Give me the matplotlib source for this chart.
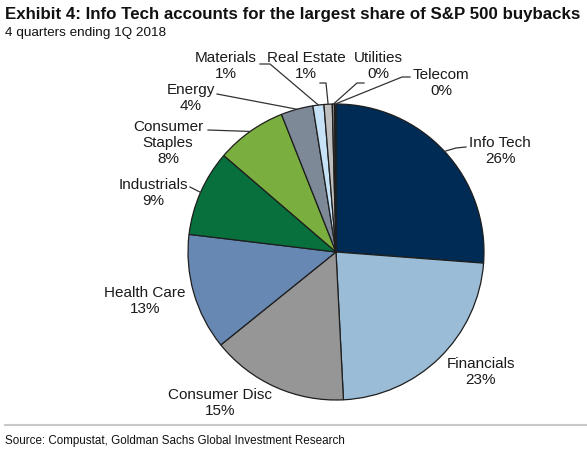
import numpy as np
import matplotlib
matplotlib.use("Agg")
import matplotlib.pyplot as plt

plt.rcParams['font.family'] = ['Liberation Sans', 'DejaVu Sans']

# datos del grafico (porcentaje de recompras, 4 trimestres a 1Q 2018)
sectores = ['Info Tech', 'Financials', 'Consumer Disc', 'Health Care', 'Industrials',
            'Consumer\nStaples', 'Energy', 'Materials', 'Real Estate', 'Utilities', 'Telecom']
valores = [26.2, 23.0, 15.0, 12.7, 9.4, 7.7, 3.5, 1.2, 0.9, 0.25, 0.15]
colores = ['#002b54', '#9abcd6', '#969696', '#6688b2', '#08703c', '#7aae3e',
           '#7e8998', '#c6e2f6', '#bfbfbf', '#7f7f7f', '#1f3f5f']

W, H = 587, 449
cx, cy, R = 336, 252, 148   # centro y radio del pastel en pixeles

def px(x, y):
    # pixel de la imagen -> coordenadas del eje del pastel
    return (x - cx) / R, (cy - y) / R

# posicion del texto de cada etiqueta (pixeles) y codo del conector (None = sin linea)
pos_txt = [(500, 151), (481, 372), (220, 403), (145, 301), (153, 193), (168, 143),
           (191, 98), (226, 66), (306, 66), (378, 66), (441, 83)]
codos = [[(466, 147), (456, 148)], None, None, None, [(190, 187)], [(208, 130)],
         [(217, 94)], [(260, 64), (270, 64)], [(320, 83), (326, 83)],
         [(364, 83), (357, 83)], [(410, 77), (402, 77)]]

fig = plt.figure(figsize=(W / 100, H / 100), dpi=100)
ax = fig.add_axes([(cx - R) / W, (H - cy - R) / H, 2 * R / W, 2 * R / H])
wedges, _ = ax.pie(valores, colors=colores, startangle=90, counterclock=False,
                   radius=1, wedgeprops=dict(edgecolor='#1e1e1e', linewidth=0.9))
ax.set_xlim(-1, 1)
ax.set_ylim(-1, 1)
ax.set_aspect('equal')
ax.axis('off')

for i, w in enumerate(wedges):
    pct = '%.0f%%' % valores[i]
    tx, ty = px(*pos_txt[i])
    ax.text(tx, ty, sectores[i] + '\n' + pct, ha='center', va='center',
            fontsize=11, color='#1a1a1a', linespacing=1.15, clip_on=False)
    if codos[i] is not None:
        ang = np.deg2rad((w.theta1 + w.theta2) / 2)
        xs = [px(*p)[0] for p in codos[i]] + [np.cos(ang)]
        ys = [px(*p)[1] for p in codos[i]] + [np.sin(ang)]
        ax.plot(xs, ys, color='#333333', lw=0.9, clip_on=False)

fig.text(5 / W, 1 - 14 / H, 'Exhibit 4: Info Tech accounts for the largest share of S&P 500 buybacks',
         fontsize=12.2, fontweight='bold', va='center', ha='left', color='#111111')
fig.text(5 / W, 1 - 33 / H, '4 quarters ending 1Q 2018', fontsize=9.7, va='center', ha='left',
         color='#111111')
fig.add_artist(plt.Line2D([5 / W, 1], [1 - 425 / H, 1 - 425 / H], color='#c8c8c8', lw=1.5))
fig.text(5 / W, 1 - 441 / H, 'Source: Compustat, Goldman Sachs Global Investment Research',
         fontsize=8.4, va='center', ha='left', color='#111111')

fig.savefig('out.png', dpi=100)
